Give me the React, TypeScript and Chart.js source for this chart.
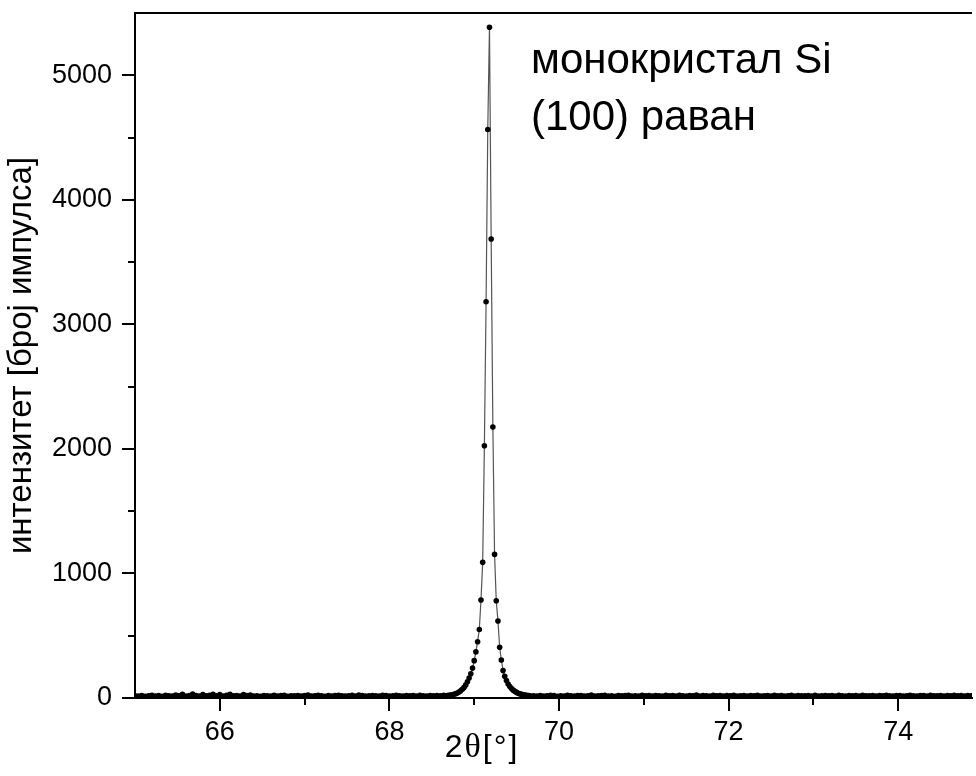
import React, { useEffect, useRef } from 'react';
import { Chart, registerables } from 'chart.js';

Chart.register(...registerables);

const FONT = '"Liberation Sans", Arial, Helvetica, sans-serif';
const SERIF = '"Liberation Serif", "Times New Roman", serif';

// Baseline left of the peak: 65.00 .. 68.68, step 0.04
const leftBaseStart = 65.0;
const leftBaseStep = 0.04;
const leftBase = [
  18, 15, 20, 14, 17, 22, 16, 19, 13, 21,
  17, 15, 24, 18, 29, 16, 20, 31, 19, 15,
  28, 17, 22, 30, 18, 27, 16, 21, 29, 17,
  20, 15, 28, 19, 23, 16, 18, 14, 20, 17,
  15, 21, 16, 19, 22, 14, 18, 17, 20, 16,
  19, 23, 15, 17, 21, 18, 14, 20, 16, 19,
  22, 17, 15, 18, 21, 16, 24, 19, 15, 17,
  20, 18, 16, 22, 19, 15, 17, 21, 18, 16,
  20, 17, 19, 15, 22, 18, 16, 20, 17, 19,
  18, 21, 20,
];

// Peak region: 68.70 .. 69.66, step 0.02
const peakStart = 68.7;
const peakStep = 0.02;
const peakValues = [
  21, 23, 26, 30, 34, 40, 48, 58, 70, 85,
  105, 130, 160, 195, 240, 300, 370, 452, 550, 787,
  1089, 2025, 3181, 4564, 5385, 3686, 2175, 1153, 781, 618,
  407, 305, 220, 175, 140, 112, 92, 76, 63, 53,
  45, 38, 33, 29, 26, 23, 21, 19, 18,
];

// Baseline right of the peak: 69.70 .. 74.90, step 0.04
const rightBaseStart = 69.7;
const rightBaseStep = 0.04;
const rightBase = [
  18, 16, 20, 15, 17, 21, 19, 14, 18, 16,
  22, 17, 15, 19, 20, 16, 18, 23, 15, 17,
  19, 21, 16, 18, 14, 20, 17, 19, 22, 16,
  18, 15, 21, 17, 19, 16, 20, 18, 15, 22,
  17, 19, 16, 21, 18, 15, 20, 17, 23, 16,
  19, 18, 15, 21, 17, 20, 16, 19, 18, 22,
  15, 17, 20, 16, 19, 18, 21, 15, 17, 20,
  16, 22, 18, 19, 15, 17, 21, 16, 20, 18,
  17, 19, 15, 22, 16, 18, 20, 17, 19, 16,
  21, 18, 15, 20, 17, 19, 16, 22, 18, 17,
  20, 16, 19, 18, 21, 17, 15, 20, 19, 16,
  18, 22, 17, 16, 20, 19, 15, 21, 18, 17,
  20, 16, 19, 18, 21, 17, 20, 16, 19, 18,
  17,
];

const xMajorTicks = [66, 68, 70, 72, 74];
const xMinorTicks = [67, 69, 71, 73];
const yMajorTicks = [0, 1000, 2000, 3000, 4000, 5000];
const yMinorTicks = [500, 1500, 2500, 3500, 4500];
const xRange = [65, 74.87];
const yRange = [0, 5500];

const xTitleParts = ['2', 'θ', '[', '°', ']'];
const yTitle = 'интензитет [број импулса]';
const annotationLines = ['монокристал Si', '(100) раван'];

function segment(start: number, step: number, values: number[]) {
  return values.map((v, i) => ({ x: +(start + i * step).toFixed(2), y: v }));
}

const decorPlugin = {
  id: 'decor',
  afterDraw(chart: any) {
    const { ctx, chartArea, scales } = chart;
    const xs = scales.x;
    const ys = scales.y;
    ctx.save();
    ctx.strokeStyle = '#000';
    ctx.lineWidth = 2;
    ctx.beginPath();
    ctx.moveTo(chartArea.left - 1, chartArea.top);
    ctx.lineTo(chartArea.right, chartArea.top);
    for (const v of xMinorTicks) {
      const px = Math.round(xs.getPixelForValue(v));
      ctx.moveTo(px, chartArea.bottom);
      ctx.lineTo(px, chartArea.bottom + 7);
    }
    for (const v of yMinorTicks) {
      const py = Math.round(ys.getPixelForValue(v));
      ctx.moveTo(chartArea.left, py);
      ctx.lineTo(chartArea.left - 7, py);
    }
    ctx.stroke();

    // x-axis title: "2θ[°]" with a serif theta, slightly spaced
    ctx.fillStyle = '#000';
    ctx.textBaseline = 'alphabetic';
    ctx.textAlign = 'left';
    const fonts = [`32px ${FONT}`, `34px ${SERIF}`, `32px ${FONT}`, `32px ${FONT}`, `32px ${FONT}`];
    const gap = 2;
    let total = 0;
    const widths = xTitleParts.map((p, i) => {
      ctx.font = fonts[i];
      const w = ctx.measureText(p).width;
      total += w + (i > 0 ? gap : 0);
      return w;
    });
    let cx = 481 - total / 2;
    xTitleParts.forEach((p, i) => {
      ctx.font = fonts[i];
      ctx.fillText(p, cx, 757);
      cx += widths[i] + gap;
    });

    ctx.font = `42px ${FONT}`;
    ctx.textAlign = 'left';
    ctx.fillText(annotationLines[0], 531, 73);
    ctx.fillText(annotationLines[1], 531, 130);
    ctx.restore();
  },
};

export default function App() {
  const ref = useRef<HTMLCanvasElement | null>(null);

  useEffect(() => {
    if (!ref.current) return;
    const data = [
      ...segment(leftBaseStart, leftBaseStep, leftBase),
      ...segment(peakStart, peakStep, peakValues),
      ...segment(rightBaseStart, rightBaseStep, rightBase),
    ];
    const chart = new Chart(ref.current, {
      type: 'line',
      data: {
        datasets: [
          {
            data,
            borderColor: '#555',
            borderWidth: 1.2,
            pointRadius: 2.8,
            pointBackgroundColor: '#000',
            pointBorderWidth: 0,
            tension: 0,
          },
        ],
      },
      options: {
        responsive: false,
        devicePixelRatio: 1,
        animation: false,
        events: [],
        layout: { padding: { top: 13, right: 0, left: 0, bottom: 0 } },
        plugins: { legend: { display: false }, tooltip: { enabled: false } },
        scales: {
          x: {
            type: 'linear',
            position: 'bottom',
            min: xRange[0],
            max: xRange[1],
            afterBuildTicks: (s: any) => {
              s.ticks = xMajorTicks.map((v) => ({ value: v }));
            },
            afterFit: (s: any) => {
              s.height = 78;
              s.paddingLeft = 0;
              s.paddingRight = 0;
              s.paddingTop = 0;
              s.paddingBottom = 0;
            },
            ticks: {
              color: '#000',
              font: { family: FONT, size: 27 },
              padding: 5,
              maxRotation: 0,
              autoSkip: false,
              callback: (v: any) => String(v),
            },
            grid: {
              display: true,
              drawOnChartArea: false,
              drawTicks: true,
              tickLength: 13,
              tickWidth: 2,
              tickColor: '#000',
              color: '#000',
              lineWidth: 2,
            },
            border: { display: true, color: '#000', width: 2 },
            title: { display: false },
          },
          y: {
            type: 'linear',
            position: 'left',
            min: yRange[0],
            max: yRange[1],
            afterBuildTicks: (s: any) => {
              s.ticks = yMajorTicks.map((v) => ({ value: v }));
            },
            afterFit: (s: any) => {
              s.width = 135;
              s.paddingLeft = 0;
              s.paddingRight = 0;
              s.paddingTop = 0;
              s.paddingBottom = 0;
            },
            ticks: {
              color: '#000',
              font: { family: FONT, size: 27 },
              padding: 10,
              autoSkip: false,
              callback: (v: any) => String(v),
            },
            grid: {
              display: true,
              drawOnChartArea: false,
              drawTicks: true,
              tickLength: 13,
              tickWidth: 2,
              tickColor: '#000',
              color: '#000',
              lineWidth: 2,
            },
            border: { display: true, color: '#000', width: 2 },
            title: {
              display: true,
              text: yTitle,
              color: '#000',
              font: { family: FONT, size: 33 },
              padding: { top: 2, bottom: 0 },
            },
          },
        },
      },
      plugins: [decorPlugin],
    } as any);
    return () => chart.destroy();
  }, []);

  return (
    <canvas
      ref={ref}
      width={976}
      height={776}
      style={{ position: 'fixed', left: 0, top: 0, width: 976, height: 776, display: 'block', background: '#fff' }}
    />
  );
}
